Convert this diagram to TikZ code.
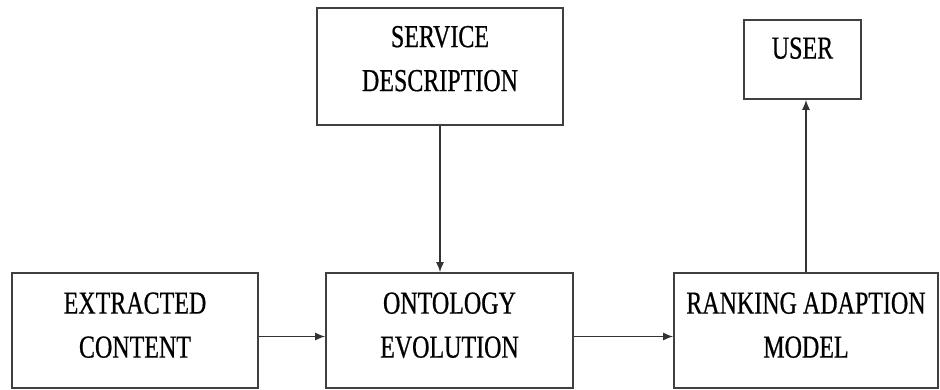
\documentclass[tikz,border=0pt]{standalone}
\usepackage{fontspec}
\setmainfont[FakeStretch=0.75, FakeBold=0.6]{Liberation Serif}
\usetikzlibrary{arrows.meta,positioning}
\tikzset{block/.style={draw=black!75, line width=1.6pt, align=center, inner sep=0pt,
    font=\fontsize{32}{44}\selectfont, text depth=11pt},
  link/.style={-{Latex[length=10pt,width=8pt]}, line width=1.5pt, black!80}}

\begin{document}
\begin{tikzpicture}[x=1pt, y=1pt]
    \useasboundingbox (0, 0) rectangle (940, -389);
    \node [block, minimum width=246, minimum height=115] (ext) at (135, -330.5) {EXTRACTED\\CONTENT};
    \node [block, minimum width=247, minimum height=115] (onto) at (449.5, -330.5) {ONTOLOGY\\EVOLUTION};
    \node [block, minimum width=264, minimum height=115] (rank) at (806, -330.5) {RANKING ADAPTION\\MODEL};
    \node [block, minimum width=246, minimum height=117, text depth=16pt] (serv) at (440, -66.5) {SERVICE\\DESCRIPTION};
    \node [block, minimum width=117, minimum height=79, text depth=23pt] (user) at (802.5, -59.5) {USER};
    \draw [link] (serv.south) -- (serv.south |- onto.north);
    \draw [link] ([yshift=-6]ext.east) -- ([yshift=-6]onto.west);
    \draw [link] ([yshift=-6]onto.east) -- ([yshift=-6]rank.west);
    \draw [link] (rank.north) -- (rank.north |- user.south);
\end{tikzpicture}
\end{document}
